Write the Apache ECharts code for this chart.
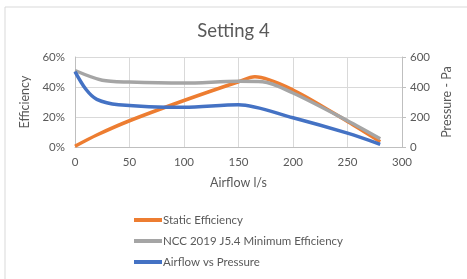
<!DOCTYPE html>
<html>
<head>
<meta charset="utf-8">
<script src="https://cdn.jsdelivr.net/npm/echarts@6/dist/echarts.min.js"></script>
<style>
  html, body { margin: 0; padding: 0; background: #fff; }
  #chart { width: 467px; height: 279px; }
</style>
</head>
<body>
<div id="chart"></div>
<script>
var chart = echarts.init(document.getElementById('chart'));

// airflow l/s vs value
var staticEff = [[0, 0.5], [20, 8], [50, 17.5], [100, 31], [150, 43.5], [165, 46.8], [200, 38], [250, 17], [280, 3.5]];
var nccMinEff = [[0, 51], [25, 44.5], [50, 43.3], [100, 42.6], [150, 43.8], [172, 43.5], [200, 36], [250, 17.5], [280, 5.5]];
var pressure = [[0, 503], [10, 385], [20, 318], [40, 282], [100, 265], [150, 282], [200, 195], [250, 92], [280, 18]];

var textColor = '#595959';
var fontName = 'Lato';

var option = {
    animation: false,
    textStyle: {fontFamily: fontName},
    graphic: [{
        type: 'rect',
        shape: {x: 5, y: 7, width: 470, height: 290},
        style: {fill: 'none', stroke: '#d9d9d9', lineWidth: 1}
    }],
    title: {
        text: 'Setting 4',
        left: 'center',
        top: 17,
        textStyle: {color: textColor, fontSize: 18.5, fontWeight: 'normal', fontFamily: fontName}
    },
    grid: {left: 75, right: 65, top: 57, bottom: 132},
    legend: {
        orient: 'vertical',
        left: 129,
        top: 209,
        itemWidth: 28,
        itemHeight: 4,
        itemGap: 9,
        icon: 'rect',
        textStyle: {color: textColor, fontSize: 11.5, fontFamily: fontName, padding: [0, 0, 0, -4]},
        data: ['Static Efficiency', 'NCC 2019 J5.4 Minimum Efficiency', 'Airflow vs Pressure']
    },
    xAxis: {
        type: 'value',
        min: 0,
        max: 300,
        interval: 50,
        name: 'Airflow l/s',
        nameLocation: 'middle',
        nameGap: 29,
        nameTextStyle: {color: textColor, fontSize: 12.5},
        axisLine: {show: true, lineStyle: {color: '#bfbfbf', width: 1}},
        axisTick: {show: false},
        axisLabel: {color: textColor, fontSize: 11.5, margin: 9},
        splitLine: {show: true, lineStyle: {color: '#d9d9d9'}}
    },
    yAxis: [{
        type: 'value',
        min: 0,
        max: 60,
        interval: 20,
        name: 'Efficiency',
        nameLocation: 'middle',
        nameGap: 38,
        nameTextStyle: {color: textColor, fontSize: 12.5},
        axisLine: {show: true, lineStyle: {color: '#bfbfbf'}},
        axisTick: {show: false},
        axisLabel: {color: textColor, fontSize: 11.5, formatter: '{value}%', margin: 10},
        splitLine: {show: true, lineStyle: {color: '#d9d9d9'}}
    }, {
        type: 'value',
        min: 0,
        max: 600,
        interval: 200,
        name: 'Pressure - Pa',
        nameLocation: 'middle',
        nameGap: 38,
        nameRotate: 90,
        nameTextStyle: {color: textColor, fontSize: 12.5},
        axisLine: {show: true, lineStyle: {color: '#bfbfbf'}},
        axisTick: {show: true, length: 4, lineStyle: {color: '#bfbfbf'}},
        axisLabel: {color: textColor, fontSize: 11.5, margin: 8},
        splitLine: {show: false}
    }],
    series: [{
        name: 'Static Efficiency',
        type: 'line',
        smooth: 0.3,
        showSymbol: false,
        color: '#ED7D31',
        lineStyle: {width: 3.5},
        data: staticEff,
        z: 3
    }, {
        name: 'NCC 2019 J5.4 Minimum Efficiency',
        type: 'line',
        smooth: 0.3,
        showSymbol: false,
        color: '#A5A5A5',
        lineStyle: {width: 3.5},
        data: nccMinEff,
        z: 4
    }, {
        name: 'Airflow vs Pressure',
        type: 'line',
        yAxisIndex: 1,
        smooth: 0.3,
        showSymbol: false,
        color: '#4472C4',
        lineStyle: {width: 3.5},
        data: pressure,
        z: 5
    }]
};

chart.setOption(option);
</script>
</body>
</html>
